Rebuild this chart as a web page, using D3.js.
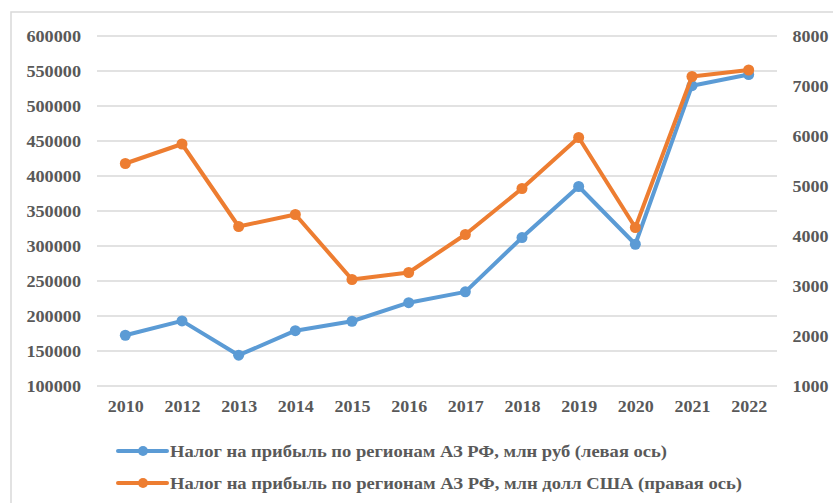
<!DOCTYPE html>
<html>
<head>
<meta charset="utf-8">
<script src="https://cdn.jsdelivr.net/npm/d3@7"></script>
<style>
  body { margin: 0; background: #fff; }
</style>
</head>
<body>
<script>
// chart size
const w = 833;
const h = 503;
const font = "'Liberation Serif', 'Times New Roman', serif";

// data
const years = ["2010", "2012", "2013", "2014", "2015", "2016", "2017", "2018", "2019", "2020", "2021", "2022"];
const taxRub = [172500, 193000, 144000, 179000, 192500, 219000, 234500, 312000, 385000, 302500, 529000, 545000];
const taxUsd = [5450, 5840, 4190, 4430, 3130, 3270, 4030, 4950, 5970, 4170, 7190, 7320];
const leftTicks = [100000, 150000, 200000, 250000, 300000, 350000, 400000, 450000, 500000, 550000, 600000];
const rightTicks = [1000, 2000, 3000, 4000, 5000, 6000, 7000, 8000];
const seriesNames = [
  "Налог на прибыль по регионам АЗ РФ, млн руб (левая ось)",
  "Налог на прибыль по регионам АЗ РФ, млн долл США (правая ось)"
];
const colors = ["#5B9BD5", "#ED7D31"];

// plot area
const plotLeft = 97, plotRight = 777, plotTop = 36, plotBottom = 386;

const svg = d3.select("body").append("svg")
  .attr("width", w)
  .attr("height", h);

// outer frame of the chart (cut off at right and bottom)
svg.append("rect")
  .attr("x", 11).attr("y", 12)
  .attr("width", 900).attr("height", 600)
  .attr("fill", "none")
  .attr("stroke", "#d9d9d9")
  .attr("stroke-width", 1.5);

const x = d3.scalePoint().domain(years).range([plotLeft, plotRight]).padding(0.5);
const yL = d3.scaleLinear().domain([100000, 600000]).range([plotBottom, plotTop]);
const yR = d3.scaleLinear().domain([1000, 8000]).range([plotBottom, plotTop]);

// gridlines
svg.append("g").selectAll("line")
  .data(leftTicks)
  .enter()
  .append("line")
  .attr("x1", plotLeft).attr("x2", plotRight)
  .attr("y1", d => yL(d)).attr("y2", d => yL(d))
  .attr("stroke", "#d9d9d9")
  .attr("stroke-width", 1.5);

// the picture's digits are wide, so stretch each label to its measured width
function styleAxis(g, perDigit) {
  g.select(".domain").remove();
  g.selectAll("text")
    .attr("font-family", font)
    .attr("font-weight", "bold")
    .attr("font-size", 16)
    .attr("fill", "#595959")
    .attr("lengthAdjust", "spacingAndGlyphs")
    .attr("textLength", function () { return this.textContent.length * perDigit; });
}

// left axis
svg.append("g")
  .attr("transform", `translate(${plotLeft},0)`)
  .call(d3.axisLeft(yL).tickValues(leftTicks).tickSize(0).tickPadding(16).tickFormat(d3.format("d")))
  .call(g => styleAxis(g, 9.1));

// right axis
svg.append("g")
  .attr("transform", `translate(${plotRight},0)`)
  .call(d3.axisRight(yR).tickValues(rightTicks).tickSize(0).tickPadding(15.5).tickFormat(d3.format("d")))
  .call(g => styleAxis(g, 9));

// bottom axis
svg.append("g")
  .attr("transform", `translate(0,${plotBottom})`)
  .call(d3.axisBottom(x).tickSize(0).tickPadding(15))
  .call(g => styleAxis(g, 9));

// series
const series = [
  { name: seriesNames[0], values: taxRub, y: yL, color: colors[0], width: 497 },
  { name: seriesNames[1], values: taxUsd, y: yR, color: colors[1], width: 572 }
];

series.forEach(s => {
  const line = d3.line()
    .x((d, i) => x(years[i]))
    .y(d => s.y(d));
  svg.append("path")
    .datum(s.values)
    .attr("d", line)
    .attr("fill", "none")
    .attr("stroke", s.color)
    .attr("stroke-width", 4)
    .attr("stroke-linejoin", "round");
  svg.append("g").selectAll("circle")
    .data(s.values)
    .enter()
    .append("circle")
    .attr("cx", (d, i) => x(years[i]))
    .attr("cy", d => s.y(d))
    .attr("r", 5.5)
    .attr("fill", s.color);
});

// legend
const legend = svg.append("g").selectAll("g")
  .data(series)
  .enter()
  .append("g")
  .attr("transform", (d, i) => `translate(118,${451 + i * 32})`);
legend.append("line")
  .attr("x1", 0).attr("x2", 49)
  .attr("stroke", d => d.color)
  .attr("stroke-width", 4)
  .attr("stroke-linecap", "round");
legend.append("circle")
  .attr("cx", 25).attr("r", 5)
  .attr("fill", d => d.color);
legend.append("text")
  .attr("x", 52).attr("dy", "0.35em")
  .attr("font-family", font)
  .attr("font-weight", "bold")
  .attr("font-size", 17.5)
  .attr("fill", "#595959")
  .attr("lengthAdjust", "spacingAndGlyphs")
  .attr("textLength", d => d.width)
  .text(d => d.name);
</script>
</body>
</html>
